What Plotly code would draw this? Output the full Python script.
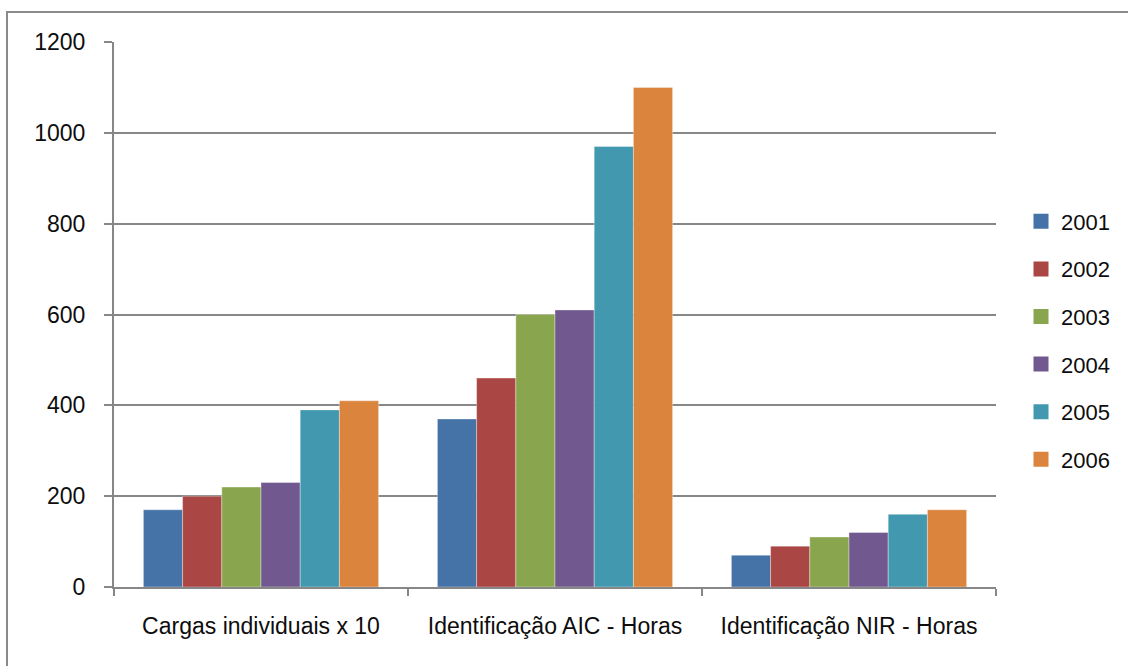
import plotly.graph_objects as go

# Categories on the x axis
categories = ["Cargas individuais x 10", "Identificação AIC - Horas", "Identificação NIR - Horas"]

# One series per year
years = ["2001", "2002", "2003", "2004", "2005", "2006"]
values_2001 = [170, 370, 70]
values_2002 = [200, 460, 90]
values_2003 = [220, 600, 110]
values_2004 = [230, 610, 120]
values_2005 = [390, 970, 160]
values_2006 = [410, 1100, 170]

series = [values_2001, values_2002, values_2003, values_2004, values_2005, values_2006]
colors = ["#4572A7", "#AA4643", "#89A54E", "#71588F", "#4198AF", "#DB843D"]

y_ticks = [0, 200, 400, 600, 800, 1000, 1200]

GRID = "#878787"
FONT = "Liberation Sans"
TEXT = "#0d0d0d"

fig = go.Figure()
for i, (name, vals) in enumerate(zip(years, series)):
    fig.add_trace(go.Bar(
        x=categories, y=vals, name=name, showlegend=False,
        marker=dict(color=colors[i], line=dict(color="rgba(255,255,255,0.35)", width=1)),
    ))
    # legend key: a larger square swatch per year
    fig.add_trace(go.Scatter(
        x=[None], y=[None], name=name, mode="markers", legendgroup=name,
        marker=dict(symbol="square", size=15, color=colors[i]),
    ))

# plot area: x 114..996, y 42..587
L, R, T, B = 114, 1128 - 996, 42, 666 - 587
pw, ph = 1128 - L - R, 666 - T - B

fig.update_layout(
    width=1128, height=666,
    margin=dict(l=L, r=R, t=T, b=B, autoexpand=False),
    paper_bgcolor="white", plot_bgcolor="white",
    barmode="group", bargap=0.2, bargroupgap=0,
    font=dict(family=FONT, size=23, color=TEXT),
    showlegend=True,
    legend=dict(
        x=(1021 - L) / pw, y=(587 - 200.5) / ph, xanchor="left", yanchor="top",
        font=dict(family=FONT, size=22, color=TEXT),
        tracegroupgap=16, bgcolor="rgba(0,0,0,0)",
    ),
    xaxis=dict(
        type="category", tickson="boundaries", ticks="outside", ticklen=7,
        tickcolor=GRID, tickwidth=2, showline=True, linecolor=GRID, linewidth=2,
        showgrid=False, ticklabelstandoff=17,
        tickfont=dict(family=FONT, size=23, color=TEXT),
    ),
    yaxis=dict(
        range=[0, 1200], tickvals=y_ticks, ticks="outside", ticklen=8,
        tickcolor=GRID, tickwidth=2, showline=True, linecolor=GRID, linewidth=2,
        showgrid=True, gridcolor=GRID, gridwidth=2, zeroline=False,
        ticklabelstandoff=14,
        tickfont=dict(family=FONT, size=23, color=TEXT),
    ),
    shapes=[dict(
        type="rect", xref="paper", yref="paper",
        x0=(7 - L) / pw, x1=(1140 - L) / pw,
        y0=(587 - 680) / ph, y1=(587 - 12) / ph,
        line=dict(color="#8a8a8a", width=2), fillcolor="rgba(0,0,0,0)", layer="below",
    )],
)

fig.write_html("out.html")
